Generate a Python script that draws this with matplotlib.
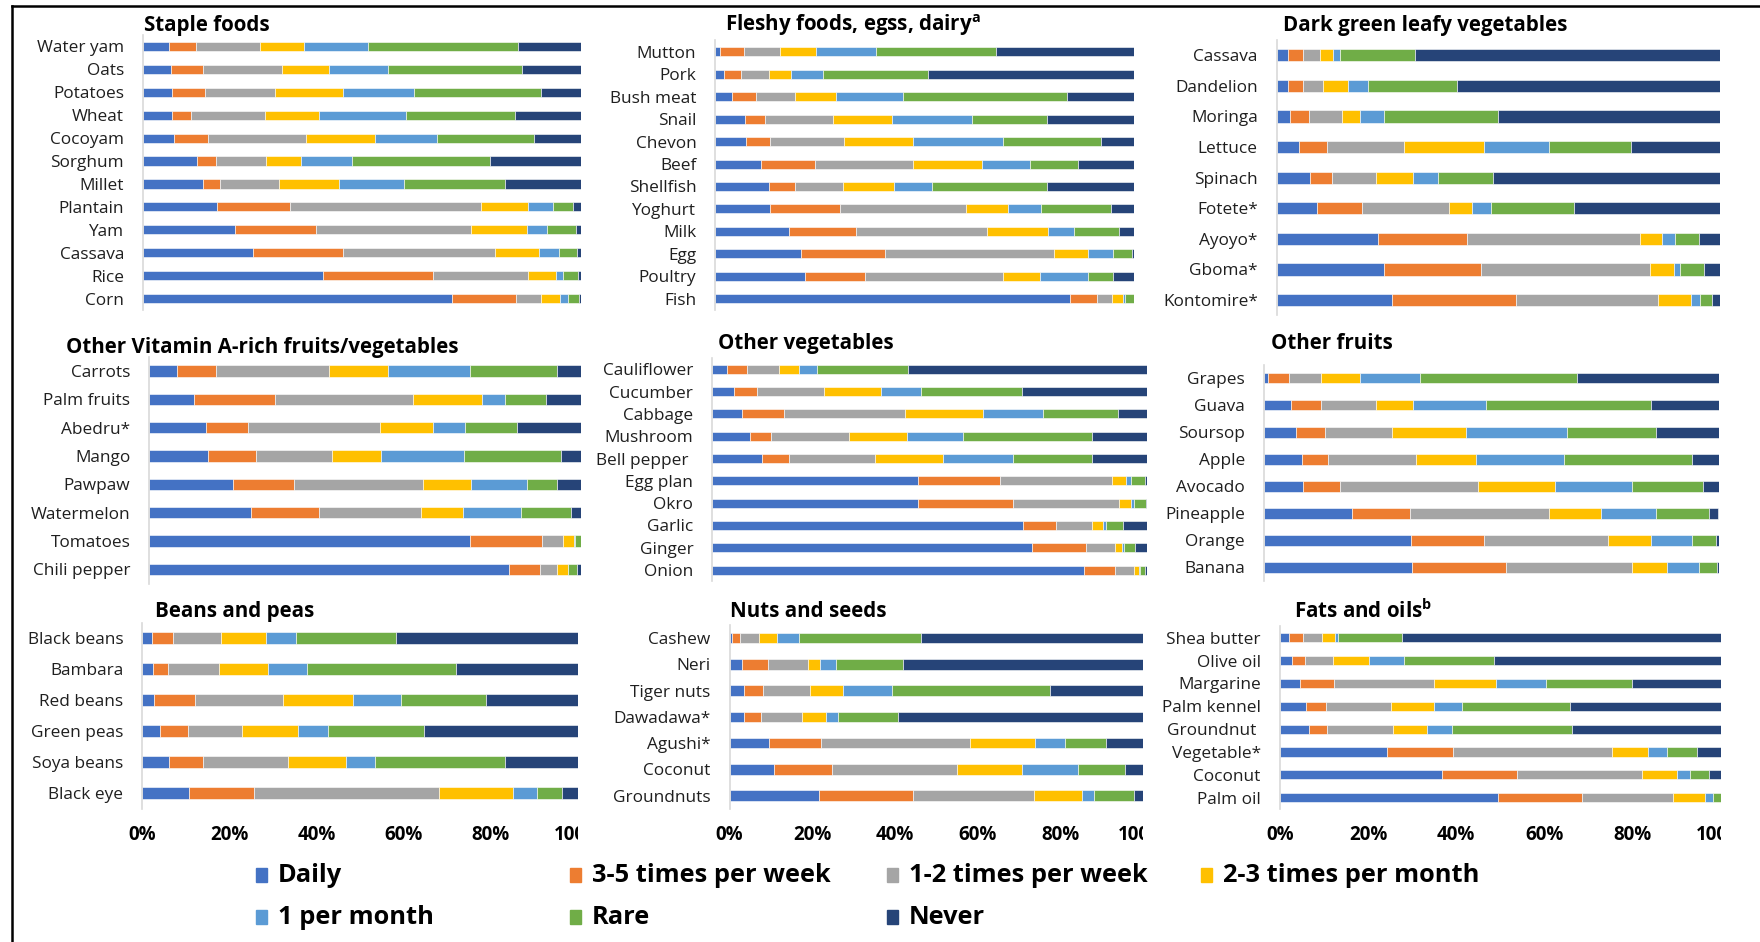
import numpy as np
import matplotlib
matplotlib.use("Agg")
import matplotlib.pyplot as plt
from matplotlib.transforms import Bbox, TransformedBbox, blended_transform_factory
from matplotlib.patches import Rectangle
from matplotlib.lines import Line2D

plt.rcParams['font.family'] = ['Open Sans', 'DejaVu Sans']
plt.rcParams['mathtext.fontset'] = 'custom'
plt.rcParams['mathtext.rm'] = 'Open Sans'
plt.rcParams['mathtext.bf'] = 'Open Sans:bold'

# Frequency of consumption categories (stack order) and their colours
FREQUENCIES = ["Daily", "3-5 times per week", "1-2 times per week",
               "2-3 times per month", "1 per month", "Rare", "Never"]
COLORS = ["#4472C4", "#ED7D31", "#A5A5A5", "#FFC000", "#5B9BD5", "#70AD47", "#264478"]

# ---- Percentages of respondents per frequency (Daily ... Never) ----
staple_items = ["Water yam", "Oats", "Potatoes", "Wheat", "Cocoyam", "Sorghum",
                "Millet", "Plantain", "Yam", "Cassava", "Rice", "Corn"]
staple_pct = [
    [5.9, 6.1, 14.7, 10.1, 14.6, 34.4, 14.2],
    [6.3, 7.4, 18.0, 10.9, 13.3, 30.7, 13.4],
    [6.6, 7.6, 16.0, 15.6, 16.1, 29.1, 9.0],
    [6.6, 4.4, 16.8, 12.5, 19.9, 24.8, 15.0],
    [7.1, 7.8, 22.3, 15.9, 14.0, 22.3, 10.6],
    [12.4, 4.3, 11.4, 8.0, 11.6, 31.5, 20.8],
    [13.8, 3.7, 13.5, 13.7, 15.0, 23.1, 17.2],
    [16.8, 16.8, 43.6, 10.7, 5.8, 4.5, 1.8],
    [21.1, 18.5, 35.4, 12.7, 4.6, 6.7, 1.0],
    [25.1, 20.7, 34.7, 10.1, 4.4, 4.1, 0.9],
    [41.1, 25.2, 21.7, 6.5, 1.6, 3.3, 0.6],
    [70.6, 14.7, 5.6, 4.3, 2.0, 2.5, 0.3],
]

fleshy_items = ["Mutton", "Pork", "Bush meat", "Snail", "Chevon", "Beef",
                "Shellfish", "Yoghurt", "Milk", "Egg", "Poultry", "Fish"]
fleshy_pct = [
    [1.1, 5.8, 8.6, 8.5, 14.5, 28.6, 32.9],
    [2.1, 4.0, 6.7, 5.3, 7.7, 25.1, 49.1],
    [4.0, 5.8, 9.2, 9.9, 16.0, 39.0, 16.1],
    [7.1, 4.8, 16.3, 14.0, 19.2, 17.9, 20.7],
    [7.4, 5.7, 17.6, 16.5, 21.6, 23.2, 8.0],
    [10.9, 13.0, 23.2, 16.7, 11.3, 11.6, 13.3],
    [12.8, 6.2, 11.5, 12.1, 9.2, 27.4, 20.8],
    [13.1, 16.7, 30.0, 10.2, 7.9, 16.7, 5.4],
    [17.5, 16.1, 31.3, 14.5, 6.3, 10.6, 3.7],
    [20.5, 20.1, 40.3, 8.0, 6.1, 4.5, 0.5],
    [21.4, 14.4, 32.9, 8.8, 11.6, 5.9, 5.0],
    [84.7, 6.4, 3.6, 2.6, 0.5, 2.2, 0.0],
]

leafy_items = ["Cassava", "Dandelion", "Moringa", "Lettuce", "Spinach",
               "Fotete*", "Ayoyo*", "Gboma*", "Kontomire*"]
leafy_pct = [
    [2.5, 3.4, 3.9, 2.9, 1.5, 16.9, 68.9],
    [2.6, 3.3, 4.5, 5.6, 4.5, 20.2, 59.3],
    [3.0, 4.2, 7.5, 4.1, 5.5, 25.5, 50.2],
    [5.1, 6.2, 17.4, 18.1, 14.7, 18.4, 20.1],
    [7.6, 4.9, 9.9, 8.3, 5.7, 12.4, 51.2],
    [9.1, 10.2, 19.5, 5.2, 4.4, 18.7, 32.9],
    [22.9, 20.0, 39.1, 5.0, 2.9, 5.3, 4.8],
    [24.3, 21.7, 38.3, 5.4, 1.3, 5.5, 3.5],
    [26.1, 27.9, 32.0, 7.4, 2.1, 2.8, 1.7],
]

vita_items = ["Carrots", "Palm fruits", "Abedru*", "Mango", "Pawpaw",
              "Watermelon", "Tomatoes", "Chili pepper"]
vita_pct = [
    [6.3, 9.2, 26.2, 13.6, 19.1, 20.1, 5.5],
    [10.4, 18.8, 32.0, 15.9, 5.4, 9.6, 7.9],
    [13.2, 9.6, 30.7, 12.4, 7.4, 11.9, 14.8],
    [13.7, 11.1, 17.5, 11.5, 19.1, 22.5, 4.6],
    [19.4, 14.2, 29.8, 11.2, 13.1, 6.8, 5.5],
    [23.6, 15.8, 23.6, 9.7, 13.4, 11.7, 2.2],
    [74.4, 16.6, 4.9, 2.7, 0.2, 1.2, 0.0],
    [83.4, 7.3, 3.9, 2.5, 0.1, 1.9, 0.9],
]

veg_items = ["Cauliflower", "Cucumber", "Cabbage", "Mushroom", "Bell pepper ",
             "Egg plan", "Okro", "Garlic", "Ginger", "Onion"]
veg_pct = [
    [3.4, 4.5, 7.5, 4.5, 4.1, 21.1, 54.9],
    [5.1, 5.1, 15.6, 13.0, 9.2, 23.3, 28.7],
    [6.8, 9.7, 27.9, 18.0, 13.8, 17.2, 6.6],
    [8.7, 4.9, 17.8, 13.4, 12.8, 29.9, 12.5],
    [11.5, 6.1, 19.8, 15.7, 16.0, 18.3, 12.6],
    [47.3, 18.8, 25.8, 3.3, 1.1, 3.3, 0.4],
    [47.4, 21.7, 24.6, 2.6, 0.7, 2.8, 0.2],
    [71.6, 7.6, 8.2, 2.5, 0.6, 4.0, 5.5],
    [73.6, 12.4, 6.6, 1.7, 0.4, 2.6, 2.7],
    [85.5, 7.1, 4.5, 1.2, 0.2, 1.1, 0.4],
]

fruit_items = ["Grapes", "Guava", "Soursop", "Apple", "Avocado",
               "Pineapple", "Orange", "Banana"]
fruit_pct = [
    [0.8, 4.7, 7.1, 8.4, 13.3, 34.5, 31.2],
    [6.0, 6.4, 12.1, 8.2, 16.1, 36.2, 15.0],
    [7.1, 6.3, 14.7, 16.3, 22.1, 19.7, 13.8],
    [8.4, 5.7, 19.3, 13.1, 19.3, 28.3, 5.9],
    [8.6, 8.0, 30.3, 17.0, 16.9, 15.6, 3.6],
    [19.3, 12.8, 30.5, 11.5, 12.1, 11.5, 2.0],
    [32.3, 16.0, 27.2, 9.4, 9.0, 5.4, 0.7],
    [32.5, 20.6, 27.7, 7.7, 7.1, 4.0, 0.4],
]

bean_items = ["Black beans", "Bambara", "Red beans", "Green peas",
              "Soya beans", "Black eye"]
bean_pct = [
    [2.2, 4.9, 11.1, 10.3, 6.8, 23.0, 41.7],
    [2.5, 3.4, 11.8, 11.2, 9.0, 34.2, 27.9],
    [2.6, 9.5, 20.2, 16.0, 11.1, 19.6, 21.0],
    [4.0, 6.4, 12.5, 12.8, 6.9, 22.0, 35.4],
    [6.2, 7.7, 19.5, 13.3, 6.8, 29.7, 16.8],
    [10.8, 14.8, 42.5, 17.0, 5.5, 5.8, 3.6],
]

nut_items = ["Cashew", "Neri", "Tiger nuts", "Dawadawa*", "Agushi*",
             "Coconut", "Groundnuts"]
nut_pct = [
    [0.5, 2.1, 4.6, 4.3, 5.3, 29.6, 53.6],
    [3.0, 6.3, 9.6, 3.0, 3.9, 16.1, 58.1],
    [3.4, 4.7, 11.3, 8.0, 11.9, 38.2, 22.5],
    [3.6, 4.1, 9.8, 5.8, 3.0, 14.5, 59.2],
    [9.5, 12.7, 36.0, 15.7, 7.4, 9.7, 9.0],
    [10.7, 14.1, 30.2, 15.7, 13.6, 11.3, 4.4],
    [21.7, 22.8, 29.3, 11.4, 3.1, 9.6, 2.1],
]

fat_items = ["Shea butter", "Olive oil", "Margarine", "Palm kennel",
             "Groundnut ", "Vegetable*", "Coconut", "Palm oil"]
fat_pct = [
    [2.1, 3.2, 4.3, 2.8, 0.8, 14.4, 72.4],
    [2.7, 3.1, 6.3, 8.0, 8.1, 20.3, 51.5],
    [4.6, 7.7, 22.7, 14.1, 11.2, 19.6, 20.1],
    [5.9, 4.6, 14.8, 9.7, 6.3, 24.4, 34.3],
    [6.5, 4.1, 15.0, 7.8, 5.7, 27.2, 33.7],
    [24.4, 14.8, 36.1, 8.1, 4.3, 6.9, 5.4],
    [36.8, 17.0, 28.3, 7.9, 3.0, 4.3, 2.7],
    [49.5, 19.1, 20.6, 7.3, 1.8, 1.7, 0.0],
]

x_ticks = [0, 20, 40, 60, 80, 100]
x_tick_labels = ["0%", "20%", "40%", "60%", "80%", "100%"]

# ---- Layout (pixel coordinates on a 1760 x 942 canvas) ----
W, H = 1760, 942
fig = plt.figure(figsize=(W / 100, H / 100), dpi=100)

def px_rect(x0, x1, y0, y1):
    return [x0 / W, 1 - y1 / H, (x1 - x0) / W, (y1 - y0) / H]

# title, items, values, axes box (x0, x1, y0, y1), title anchor (x, y), bottom row?
panels = [
    (r"Staple foods", staple_items, staple_pct, (143.0, 580.5, 35.0, 310.0), (143.7, 25), False),
    (r"Fleshy foods, egss, dairy$^{\mathbf{a}}$", fleshy_items, fleshy_pct, (715.3, 1134.0, 40.5, 310.0), (724.7, 25), False),
    (r"Dark green leafy vegetables", leafy_items, leafy_pct, (1276.8, 1720.0, 40.0, 315.3), (1282.9, 25), False),
    (r"Other Vitamin A-rich fruits/vegetables", vita_items, vita_pct, (149.4, 580.5, 357.0, 583.5), (65.8, 347), False),
    (r"Other vegetables", veg_items, veg_pct, (712.3, 1146.8, 358.2, 581.2), (717.9, 344), False),
    (r"Other fruits", fruit_items, fruit_pct, (1264.1, 1719.3, 364.5, 580.8), (1270.8, 344), False),
    (r"Beans and peas", bean_items, bean_pct, (142.2, 577.9, 622.8, 808.8), (155.0, 611), True),
    (r"Nuts and seeds", nut_items, nut_pct, (729.6, 1142.7, 625.0, 808.8), (729.6, 611.7), True),
    (r"Fats and oils$^{\mathbf{b}}$", fat_items, fat_pct, (1279.9, 1720.8, 626.3, 809.1), (1294.2, 611), True),
]

for title, items, pct, box, tpos, bottom_row in panels:
    ax = fig.add_axes(px_rect(*box))
    n = len(items)
    ypos = np.arange(n)
    data = np.array(pct)
    left = np.zeros(n)
    for k in range(len(FREQUENCIES)):
        ax.barh(ypos, data[:, k], left=left, height=0.4, color=COLORS[k],
                edgecolor="white", linewidth=0.4, label=FREQUENCIES[k])
        left += data[:, k]
    ax.set_xlim(0, 100)
    ax.set_ylim(n - 0.5, -0.5)
    ax.set_yticks(ypos, items)
    ax.set_xticks([])
    ax.tick_params(axis="y", length=0, pad=13.7, labelsize=12.4, labelcolor="#1f1f1f")
    for side in ("top", "right", "bottom"):
        ax.spines[side].set_visible(False)
    ax.spines["left"].set_color("#d9d9d9")
    ax.spines["left"].set_linewidth(1.2)

    fig.text(tpos[0] / W, 1 - tpos[1] / H, title, ha="left", va="center",
             fontsize=14.8, fontweight="bold", color="black")

    if bottom_row:
        trans = blended_transform_factory(ax.transData, fig.transFigure)
        clip = TransformedBbox(Bbox([[-0.3, -1.0], [1.0, 0.0]]), ax.transAxes)
        for v, lab in zip(x_ticks, x_tick_labels):
            fig.text(v, 1 - 835 / H, lab, transform=trans, ha="center", va="center",
                     fontsize=13.5, fontweight="bold", color="black",
                     clip_on=True, clip_box=clip)

# ---- Legend ----
legend_slots = [(256, 875), (570, 875), (887, 875), (1201, 875),
                (256, 917), (570, 917), (887, 917)]
for (lx, ly), name, col in zip(legend_slots, FREQUENCIES, COLORS):
    fig.add_artist(Rectangle((lx / W, 1 - (ly + 7) / H), 11 / W, 14 / H,
                             transform=fig.transFigure, color=col))
    fig.text((lx + 22) / W, 1 - ly / H, name, ha="left", va="center",
             fontsize=18.3, fontweight="bold", color="black")

# ---- Frame lines (top and left) ----
fig.add_artist(Line2D([12 / W, 1.0], [1 - 5.7 / H, 1 - 5.7 / H],
                      transform=fig.transFigure, color="black", lw=1.8))
fig.add_artist(Line2D([12 / W, 12 / W], [0.0, 1 - 5.7 / H],
                      transform=fig.transFigure, color="black", lw=1.8))

fig.savefig("out.png", dpi=100, facecolor="white")
